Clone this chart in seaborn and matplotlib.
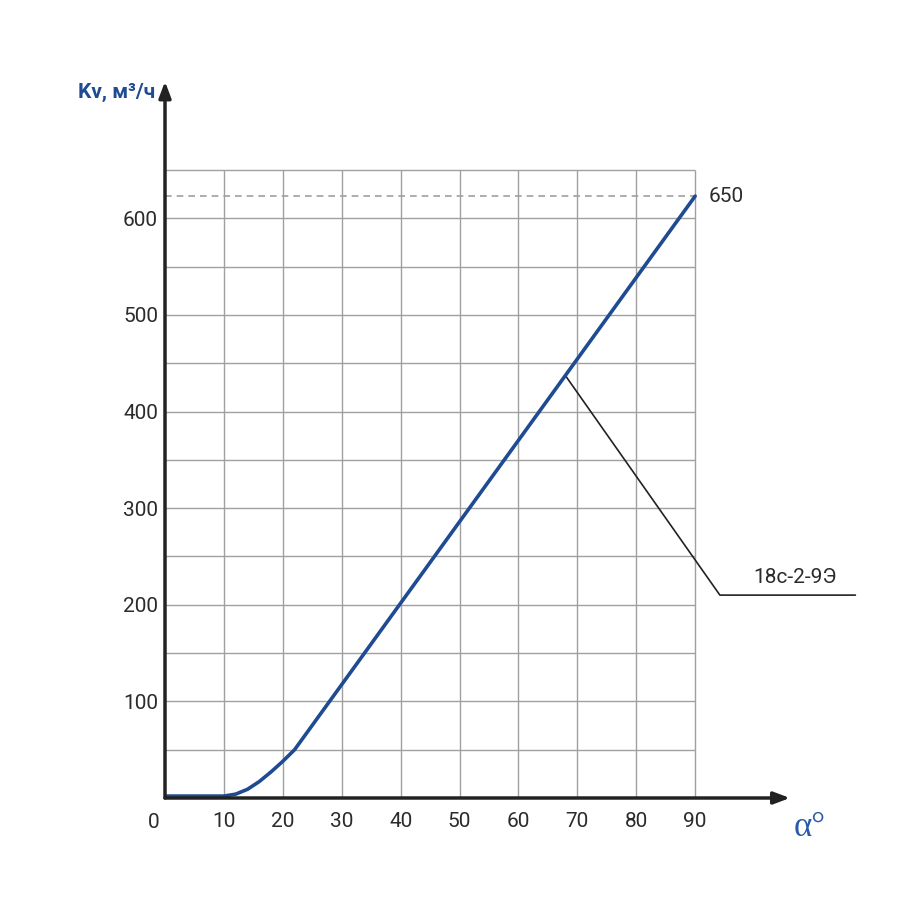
import matplotlib
matplotlib.use("Agg")
import matplotlib.pyplot as plt
import seaborn as sns
import pandas as pd

# ── Данные ─────────────────────────────────────────────────────────────────
alpha = [0, 10, 12, 14, 16, 18, 20, 22, 90]
kv = [2, 2, 4, 9, 17, 27, 38, 50, 623]
x_ticks = [0, 10, 20, 30, 40, 50, 60, 70, 80, 90]
y_ticks = [100, 200, 300, 400, 500, 600]
grid_x = [10, 20, 30, 40, 50, 60, 70, 80, 90]
grid_y = [50, 100, 150, 200, 250, 300, 350, 400, 450, 500, 550, 600, 650]
kv_max = 623
kv_max_label = "650"
model = "18с-2-9Э"

BLUE = "#1f4b93"
GRID = "#a0a0a0"
TXT = "#2b2b2b"
FS = 15

sns.set_theme(style="white")
plt.rcParams["font.family"] = ["Roboto", "DejaVu Sans"]

df = pd.DataFrame({"alpha": alpha, "kv": kv})

fig = plt.figure(figsize=(9.17, 9.17), dpi=100)
ax = fig.add_axes([165 / 917, 119 / 917, 625 / 917, 713 / 917])
ax.set_xlim(0, 106.1)
ax.set_ylim(0, 738)

# сетка
ax.vlines(grid_x, 0, 650, color=GRID, lw=1, zorder=1)
ax.hlines(grid_y, 0, 90, color=GRID, lw=1, zorder=1)
ax.hlines(kv_max, 0, 90, color=GRID, lw=1.2, ls=(0, (4, 3)), zorder=1)

sns.lineplot(data=df, x="alpha", y="kv", color=BLUE, lw=2.6, ax=ax, zorder=3)

for s in ax.spines.values():
    s.set_visible(False)

# оси со стрелками
arrow = dict(arrowstyle="-|>,head_length=0.8,head_width=0.3",
             color="#222222", lw=2.5, shrinkA=0, shrinkB=0)
ax.annotate("", xy=(0, 1.005), xytext=(0, 0), xycoords="axes fraction",
            arrowprops=arrow, zorder=4)
ax.annotate("", xy=(1, 0), xytext=(0, 0), xycoords="axes fraction",
            arrowprops=arrow, zorder=4)

ax.set_xticks(x_ticks)
ax.set_xticklabels([""] + [str(v) for v in x_ticks[1:]])
ax.set_yticks(y_ticks)
ax.tick_params(axis="both", length=0, labelsize=FS, labelcolor=TXT)
ax.tick_params(axis="x", pad=10)
ax.tick_params(axis="y", pad=5)
ax.set_xlabel("")
ax.set_ylabel("")
ax.text(-2, -25, "0", ha="center", va="center", fontsize=FS, color=TXT)

# подписи
ax.text(-14.7, 730, "Kv, м³/ч", ha="left", va="center", fontsize=15,
        fontweight="bold", color=BLUE, clip_on=False)
ax.text(92.3, kv_max, kv_max_label, ha="left", va="center", fontsize=FS, color=TXT)
ax.text(109.5, -31, "α°", ha="center", va="center", fontsize=25,
        family="Liberation Serif", color="#2a5aa8", clip_on=False)

# выноска
ax.plot([68, 94.2, 117.2], [437, 210, 210], color="#222222", lw=1.2, clip_on=False, zorder=2)
ax.text(107, 228, model, ha="center", va="center", fontsize=FS, color=TXT, clip_on=False)

fig.savefig("out.png", dpi=100, facecolor="white")
